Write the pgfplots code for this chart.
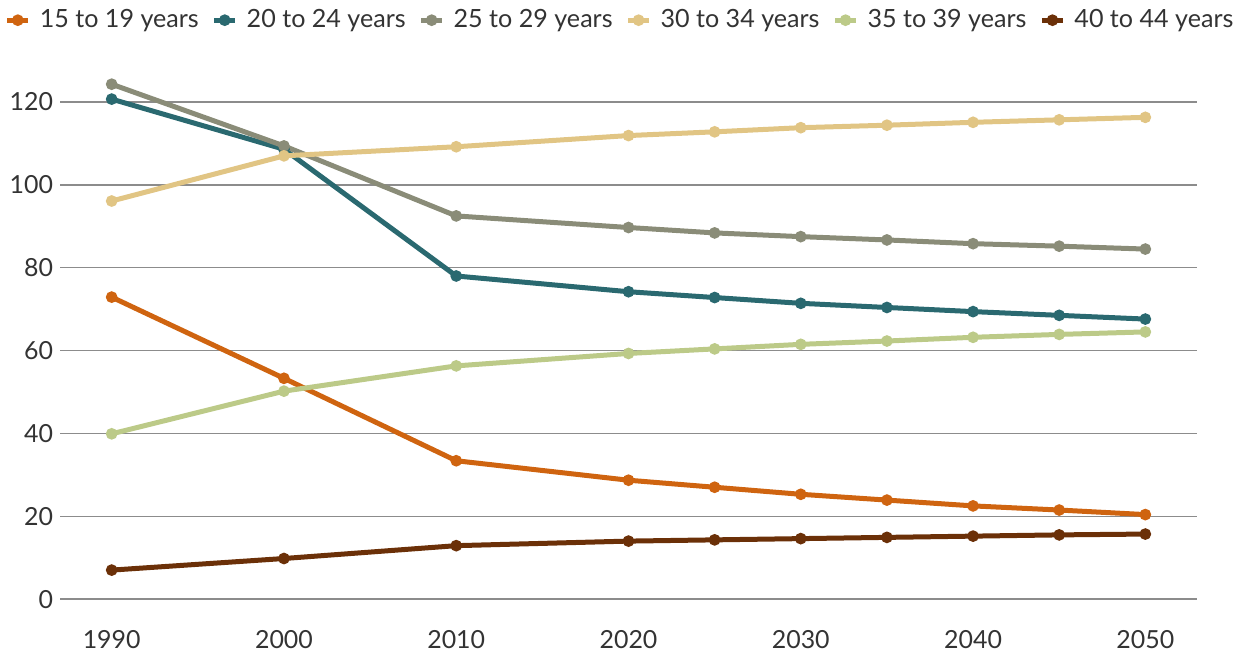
\documentclass[border=0pt]{standalone}
\usepackage{pgfplots}
\pgfplotsset{compat=1.18}
\usepackage{fontspec}
\setmainfont{Lato}
\definecolor{cOrange}{HTML}{CF6410}
\definecolor{cTeal}{HTML}{2A6970}
\definecolor{cGray}{HTML}{8A8C78}
\definecolor{cYellow}{HTML}{E1C584}
\definecolor{cLGreen}{HTML}{BCCA88}
\definecolor{cBrown}{HTML}{6B3008}
\definecolor{txt}{HTML}{333333}
\begin{document}
\begin{tikzpicture}
\useasboundingbox (-30bp,-28.5bp) rectangle (592bp,299.55bp);
\begin{axis}[
  at={(0,0)}, anchor=south west,
  scale only axis,
  width=568.5bp, height=258.9bp,
  xmin=1987, xmax=2053,
  ymin=0, ymax=125,
  xtick={1990,2000,2010,2020,2030,2040,2050},
  ytick={0,20,40,60,80,100,120},
  /pgf/number format/1000 sep={},
  /pgf/number format/assume math mode=true,
  axis line style={draw=none},
  major tick length=0pt,
  ymajorgrids,
  grid style={draw=black!45, line width=0.7bp},
  tick label style={font=\fontsize{12.5}{14}\selectfont, text=txt},
  yticklabel style={xshift=0bp},
  xticklabel style={yshift=-12bp},
  clip=false,
  every axis plot/.append style={line width=2.5bp, mark=*, mark size=1.6bp},
  legend columns=6,
  legend style={draw=none, fill=none, at={(0.4935,1.118)}, anchor=center,
    font=\fontsize{12.6}{15}\selectfont, text=txt,
    /tikz/every even column/.append style={column sep=4.5bp},
    /tikz/every odd column/.append style={column sep=2.5bp},
    inner sep=0pt},
  legend image code/.code={\draw[#1, mark repeat=2, mark phase=2, line width=2.5bp] plot coordinates {(0bp,0bp)(5.25bp,0bp)(10.5bp,0bp)};},
]
\addplot[cOrange, mark options={fill=cOrange, draw=cOrange}] coordinates {
(1990,72.9)(2000,53.3)(2010,33.4)(2020,28.7)(2025,27.0)(2030,25.3)(2035,23.9)(2040,22.5)(2045,21.5)(2050,20.4)};
\addlegendentry{15 to 19 years}
\addplot[cTeal, mark options={fill=cTeal, draw=cTeal}] coordinates {
(1990,120.7)(2000,108.6)(2010,78.0)(2020,74.2)(2025,72.8)(2030,71.4)(2035,70.4)(2040,69.4)(2045,68.5)(2050,67.6)};
\addlegendentry{20 to 24 years}
\addplot[cGray, mark options={fill=cGray, draw=cGray}] coordinates {
(1990,124.3)(2000,109.4)(2010,92.5)(2020,89.7)(2025,88.4)(2030,87.5)(2035,86.7)(2040,85.8)(2045,85.2)(2050,84.5)};
\addlegendentry{25 to 29 years}
\addplot[cYellow, mark options={fill=cYellow, draw=cYellow}] coordinates {
(1990,96.1)(2000,107.0)(2010,109.2)(2020,111.9)(2025,112.8)(2030,113.8)(2035,114.4)(2040,115.1)(2045,115.7)(2050,116.3)};
\addlegendentry{30 to 34 years}
\addplot[cLGreen, mark options={fill=cLGreen, draw=cLGreen}] coordinates {
(1990,39.9)(2000,50.2)(2010,56.3)(2020,59.3)(2025,60.4)(2030,61.5)(2035,62.3)(2040,63.2)(2045,63.9)(2050,64.5)};
\addlegendentry{35 to 39 years}
\addplot[cBrown, mark options={fill=cBrown, draw=cBrown}] coordinates {
(1990,7.0)(2000,9.8)(2010,12.9)(2020,14.0)(2025,14.3)(2030,14.6)(2035,14.9)(2040,15.2)(2045,15.5)(2050,15.7)};
\addlegendentry{40 to 44 years}
\end{axis}
\end{tikzpicture}
\end{document}
